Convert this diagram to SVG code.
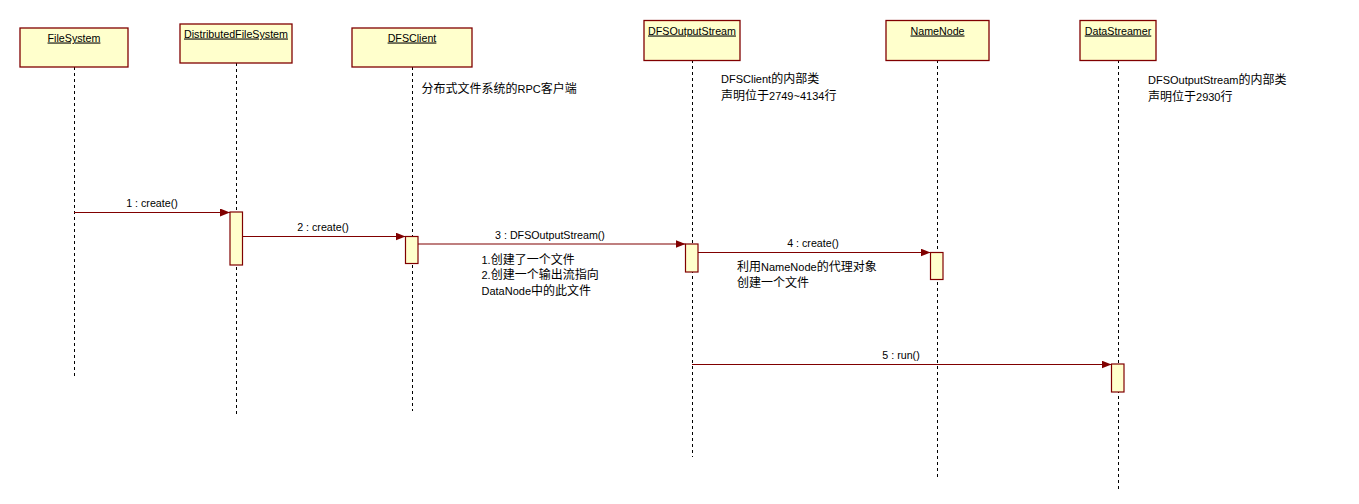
<svg xmlns="http://www.w3.org/2000/svg" width="1359" height="504" viewBox="0 0 1359 504">
  <style>
    .head { fill: #FFFFCC; stroke: #800000; stroke-width: 1.3; }
    .act { fill: #FFFFCC; stroke: #800000; stroke-width: 1.2; }
    .life { stroke: #000; stroke-width: 1; stroke-dasharray: 3 3; fill: none; }
    .msg { stroke: #800000; stroke-width: 1.2; fill: none; marker-end: url(#arrow); }
    .name { font-family: "Liberation Sans", Arial, sans-serif; font-size: 10.7px; fill: #000; text-anchor: middle; text-decoration: underline; }
    .lbl { font-family: "Liberation Sans", Arial, sans-serif; font-size: 10.7px; fill: #000; text-anchor: middle; }
    .note { font-family: "Liberation Sans", Arial, "Noto Sans CJK SC", sans-serif; font-size: 11px; fill: #000; }
    .cjk { font-family: "Noto Sans CJK SC", sans-serif; font-size: 12px; }
  </style>
  <defs>
    <marker id="arrow" viewBox="0 0 10 8" refX="10" refY="4" markerWidth="10" markerHeight="8" markerUnits="userSpaceOnUse" orient="auto">
      <path d="M0,0 L10,4 L0,8 Z" fill="#800000"/>
    </marker>
  </defs>
  <rect width="1359" height="504" fill="#fff"/>

  <!-- lifelines and their heads -->
  <g id="FileSystem">
    <line class="life" x1="74.5" y1="67" x2="74.5" y2="377"/>
    <rect class="head" x="20" y="28" width="108" height="39"/>
    <text class="name" x="74" y="41.5">FileSystem</text>
  </g>
  <g id="DistributedFileSystem">
    <line class="life" x1="236.5" y1="63" x2="236.5" y2="415"/>
    <rect class="head" x="180" y="24" width="112" height="39"/>
    <text class="name" x="236" y="37.5">DistributedFileSystem</text>
    <rect class="act" x="230" y="212" width="12.5" height="53"/>
  </g>
  <g id="DFSClient">
    <line class="life" x1="412.5" y1="67" x2="412.5" y2="411"/>
    <rect class="head" x="352" y="28" width="120" height="39"/>
    <text class="name" x="412" y="41.5">DFSClient</text>
    <rect class="act" x="405.5" y="236.5" width="12.5" height="27"/>
  </g>
  <g id="DFSOutputStream">
    <line class="life" x1="692.5" y1="60" x2="692.5" y2="457"/>
    <rect class="head" x="644" y="20.5" width="96" height="40"/>
    <text class="name" x="692" y="34.5">DFSOutputStream</text>
    <rect class="act" x="685.5" y="244" width="12.5" height="28"/>
  </g>
  <g id="NameNode">
    <line class="life" x1="937.5" y1="60" x2="937.5" y2="477"/>
    <rect class="head" x="886" y="20.5" width="103" height="40"/>
    <text class="name" x="937.5" y="34.5">NameNode</text>
    <rect class="act" x="930.5" y="252.5" width="12.5" height="27"/>
  </g>
  <g id="DataStreamer">
    <line class="life" x1="1118.5" y1="60" x2="1118.5" y2="490"/>
    <rect class="head" x="1080" y="20.5" width="76" height="40"/>
    <text class="name" x="1118" y="34.5">DataStreamer</text>
    <rect class="act" x="1111.5" y="364" width="12.5" height="28"/>
  </g>

  <!-- messages -->
  <g id="messages">
    <line class="msg" x1="74" y1="212.5" x2="230" y2="212.5"/>
    <text class="lbl" x="152" y="207">1 : create()</text>
    <line class="msg" x1="242.5" y1="236.5" x2="405.5" y2="236.5"/>
    <text class="lbl" x="323" y="231">2 : create()</text>
    <line class="msg" x1="418" y1="244" x2="685.5" y2="244"/>
    <text class="lbl" x="550" y="239">3 : DFSOutputStream()</text>
    <line class="msg" x1="698" y1="252.5" x2="930.5" y2="252.5"/>
    <text class="lbl" x="813" y="247">4 : create()</text>
    <line class="msg" x1="692" y1="364.5" x2="1111.5" y2="364.5"/>
    <text class="lbl" x="901" y="358.5">5 : run()</text>
  </g>

  <!-- annotations -->
  <g id="note-dfsclient">
    <text class="note" x="421.5" y="93"><tspan class="cjk">分布式文件系统的</tspan>RPC<tspan class="cjk">客户端</tspan></text>
  </g>
  <g id="note-outputstream">
    <text class="note" x="721" y="83">DFSClient<tspan class="cjk">的内部类</tspan></text>
    <text class="note" x="721" y="100"><tspan class="cjk">声明位于</tspan>2749~4134<tspan class="cjk">行</tspan></text>
  </g>
  <g id="note-datastreamer">
    <text class="note" x="1148" y="83.5">DFSOutputStream<tspan class="cjk">的内部类</tspan></text>
    <text class="note" x="1148" y="100.5"><tspan class="cjk">声明位于</tspan>2930<tspan class="cjk">行</tspan></text>
  </g>
  <g id="note-create-stream">
    <text class="note" x="481.5" y="264">1.<tspan class="cjk">创建了一个文件</tspan></text>
    <text class="note" x="481.5" y="279">2.<tspan class="cjk">创建一个输出流指向</tspan></text>
    <text class="note" x="481.5" y="294.5">DataNode<tspan class="cjk">中的此文件</tspan></text>
  </g>
  <g id="note-namenode">
    <text class="note" x="737" y="271"><tspan class="cjk">利用</tspan>NameNode<tspan class="cjk">的代理对象</tspan></text>
    <text class="note" x="737" y="286.5"><tspan class="cjk">创建一个文件</tspan></text>
  </g>
</svg>
